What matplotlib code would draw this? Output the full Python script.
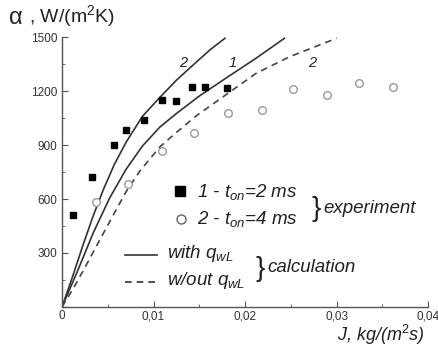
import matplotlib
matplotlib.use("Agg")
import matplotlib.pyplot as plt
from matplotlib.ticker import MultipleLocator, FuncFormatter

plt.rcParams['font.family'] = ['Liberation Sans', 'DejaVu Sans']
plt.rcParams['mathtext.fontset'] = 'custom'
plt.rcParams['mathtext.rm'] = 'Liberation Sans'
plt.rcParams['mathtext.it'] = 'Liberation Sans:italic'

# experiment, t_on = 2 ms (filled squares)
J_exp1 = [0.0012, 0.0033, 0.0057, 0.0070, 0.0090, 0.0109, 0.0125, 0.0142, 0.0156, 0.0180]
a_exp1 = [510, 720, 900, 985, 1040, 1150, 1145, 1222, 1225, 1217]

# experiment, t_on = 4 ms (open circles)
J_exp2 = [0.0037, 0.0072, 0.0109, 0.0144, 0.0181, 0.0218, 0.0252, 0.0290, 0.0325, 0.0362]
a_exp2 = [585, 683, 865, 967, 1078, 1097, 1211, 1180, 1244, 1222]

# calculation with q_wL, curve 2
J_calc2 = [0, 0.0012, 0.0023, 0.0034, 0.0045, 0.0057, 0.0070, 0.0088, 0.0107, 0.0125, 0.0147, 0.0162, 0.0178]
a_calc2 = [0, 175, 345, 505, 650, 790, 915, 1060, 1165, 1260, 1362, 1430, 1493]

# calculation with q_wL, curve 1
J_calc1 = [0, 0.0017, 0.0034, 0.0052, 0.0070, 0.0088, 0.0107, 0.0125, 0.0150, 0.0176, 0.0212, 0.0243]
a_calc1 = [0, 200, 410, 605, 765, 895, 1000, 1075, 1172, 1261, 1382, 1493]

# calculation without q_wL, curve 2
J_calc2d = [0, 0.0012, 0.0023, 0.0041, 0.0057, 0.0070, 0.0085, 0.0107, 0.0125, 0.0148, 0.0176, 0.0212, 0.0249, 0.0300]
a_calc2d = [0, 100, 200, 370, 520, 640, 755, 890, 970, 1067, 1168, 1298, 1391, 1493]

fig = plt.figure(figsize=(4.39, 3.47), dpi=100)
ax = fig.add_axes([0.1412, 0.1153, 0.834, 0.778])

ax.plot(J_calc2, a_calc2, color='#333333', lw=1.2)
ax.plot(J_calc1, a_calc1, color='#333333', lw=1.2)
ax.plot(J_calc2d, a_calc2d, color='#444444', lw=1.2, dashes=(4, 3))
ax.plot(J_exp1, a_exp1, 's', color='black', ms=5)
ax.plot(J_exp2, a_exp2, 'o', mfc='white', mec='#999999', mew=1.0, ms=5.5)

# curve labels
lbl = dict(fontsize=10.5, style='italic', color='#222222', ha='center', va='center')
ax.text(0.0132, 1354, '2', **lbl)
ax.text(0.0187, 1354, '1', **lbl)
ax.text(0.0273, 1354, '2', **lbl)

ax.set_xlim(0, 0.04)
ax.set_ylim(0, 1500)
for s in ['top', 'right']:
    ax.spines[s].set_visible(False)
for s in ['left', 'bottom']:
    ax.spines[s].set_color('#555555')
    ax.spines[s].set_linewidth(1.0)

ax.xaxis.set_major_locator(MultipleLocator(0.01))
ax.xaxis.set_minor_locator(MultipleLocator(0.005))
ax.yaxis.set_major_locator(MultipleLocator(300))
ax.yaxis.set_minor_locator(MultipleLocator(150))
ax.xaxis.set_major_formatter(FuncFormatter(lambda v, p: '0' if v == 0 else ('%.2f' % v).replace('.', ',')))
ax.yaxis.set_major_formatter(FuncFormatter(lambda v, p: '' if v == 0 else '%d' % v))
ax.tick_params(which='both', direction='in', color='#555555', labelsize=8.5, labelcolor='#333333')
ax.tick_params(which='major', length=4)
ax.tick_params(which='minor', length=2)
ax.tick_params(axis='x', pad=2.5)

# axis titles
fig.text(0.018, 0.930, r'$\mathrm{\alpha}$', fontsize=17, color='#222222')
fig.text(0.066, 0.935, ', W/(m$^2$K)', fontsize=14, color='#222222')
fig.text(0.768, 0.0, 'J, kg/(m$^2$s)', fontsize=13, style='italic', color='#222222', va='bottom')

# legend: experiment
leg = dict(fontsize=13.5, style='italic', va='center', color='#222222')
ax.plot([0.0129], [644], 's', color='black', ms=6.5)
ax.plot([0.0130], [489], 'o', mfc='white', mec='#666666', mew=1.0, ms=6.5)
ax.text(0.0147, 640, '1 - $t_{on}$=2 ms', **leg)
ax.text(0.0147, 490, '2 - $t_{on}$=4 ms', **leg)
ax.text(0.0273, 545, '}', fontsize=20, va='center', color='#222222')
ax.text(0.0286, 550, 'experiment', **leg)

# legend: calculation
ax.plot([0.0069, 0.0104], [290, 290], color='#333333', lw=1.2)
ax.plot([0.0069, 0.0104], [140, 140], color='#333333', lw=1.2, dashes=(4, 3))
ax.text(0.0115, 295, 'with $q_{wL}$', **leg)
ax.text(0.0115, 145, 'w/out $q_{wL}$', **leg)
ax.text(0.0211, 210, '}', fontsize=20, va='center', color='#222222')
ax.text(0.0224, 217, 'calculation', **leg)

fig.savefig('out.png', dpi=100)
